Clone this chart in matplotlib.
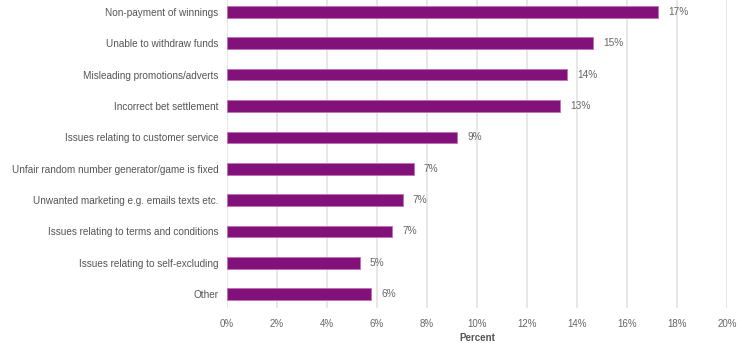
import matplotlib.pyplot as plt

# data
categories = ['Non-payment of winnings', 'Unable to withdraw funds',
              'Misleading promotions/adverts', 'Incorrect bet settlement',
              'Issues relating to customer service',
              'Unfair random number generator/game is fixed',
              'Unwanted marketing e.g. emails texts etc.',
              'Issues relating to terms and conditions',
              'Issues relating to self-excluding', 'Other']
values = [17.24, 14.63, 13.59, 13.31, 9.2, 7.47, 7.03, 6.6, 5.31, 5.76]
labels = ['17%', '15%', '14%', '13%', '9%', '7%', '7%', '7%', '5%', '6%']
xticks = [0, 2, 4, 6, 8, 10, 12, 14, 16, 18, 20]

plt.rcParams['font.family'] = ['Liberation Sans', 'DejaVu Sans']

fig = plt.figure(figsize=(7.41, 3.43), dpi=100)
ax = fig.add_axes([0.306, 0.102, 0.675, 0.898])

pos = list(range(len(categories)))
bars = ax.barh(pos, values, height=0.37, color='#82117a',
               edgecolor='#c070b8', linewidth=0.6, zorder=3)
for b, lab in zip(bars, labels):
    ax.annotate(lab, (b.get_width(), b.get_y() + b.get_height() / 2),
                xytext=(7.5, 0), textcoords='offset points',
                va='center', ha='left', fontsize=7.3, color='#666666')

ax.set_ylim(9.44, -0.38)
ax.set_xlim(0, 20)
ax.set_yticks(pos)
ax.set_yticklabels(categories, fontsize=7.2, color='#555555')
ax.set_xticks(xticks)
ax.set_xticklabels([f'{t}%' for t in xticks], fontsize=7, color='#666666')
ax.tick_params(axis='both', length=0)
ax.tick_params(axis='y', pad=6)
ax.tick_params(axis='x', pad=8)
ax.grid(axis='x', color='#e3e3e3', linewidth=1.2, zorder=0)
for s in ax.spines.values():
    s.set_visible(False)
ax.set_xlabel('Percent', fontsize=7, fontweight='bold', color='#555555', labelpad=3)

fig.savefig('out.png', dpi=100)
